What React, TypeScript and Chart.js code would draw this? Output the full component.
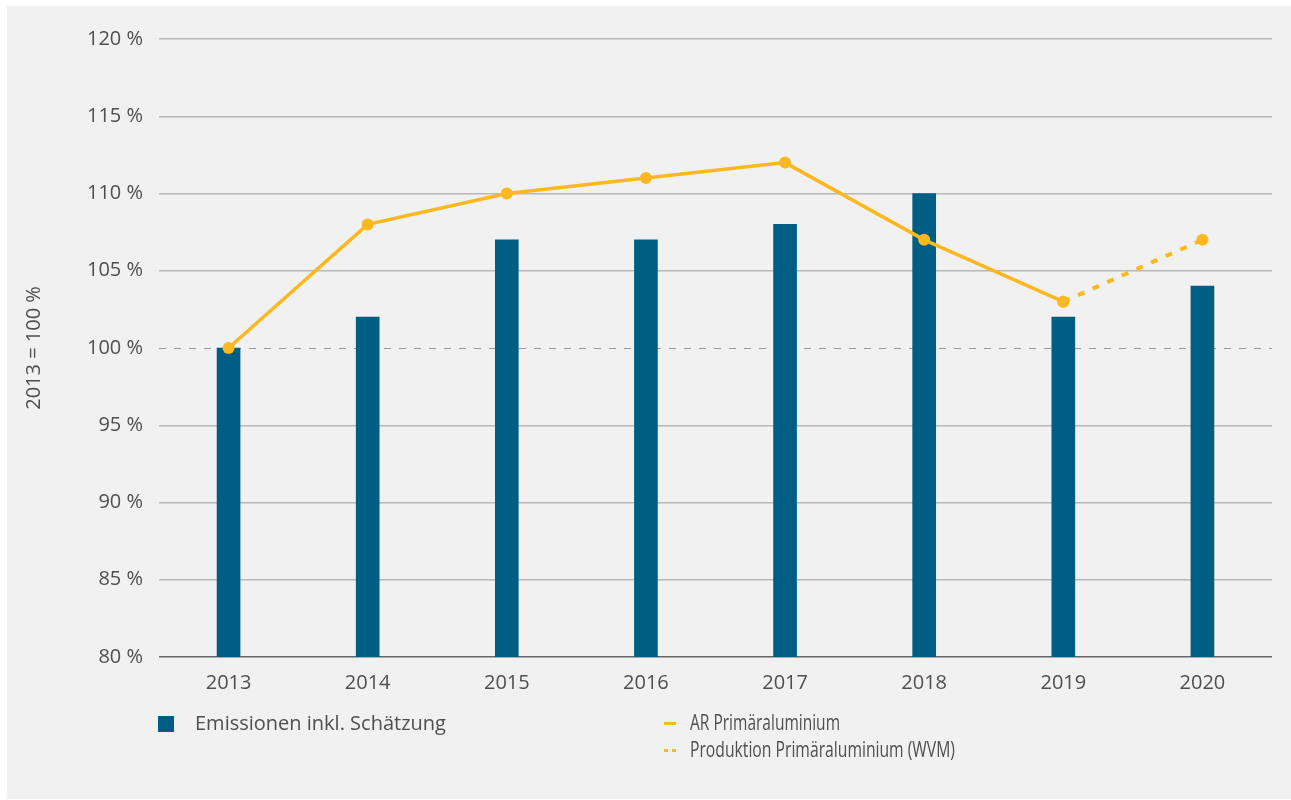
import React, { useEffect, useRef } from "react";
import { Chart, registerables } from "chart.js";

Chart.register(...registerables);

const categories = ["2013", "2014", "2015", "2016", "2017", "2018", "2019", "2020"];
const emissionen = [100, 102, 107, 107, 108, 110, 102, 104];
const arPrimaer = [100, 108, 110, 111, 112, 107, 103, null];
const produktionWVM = [null, null, null, null, null, null, 103, 107];
const yTicks = [80, 85, 90, 95, 100, 105, 110, 115, 120];

const BLUE = "#005d84";
const YELLOW = "#fbb820";
const TEXT = "#4f4f4f";

const baselinePlugin = {
  id: "baseline100",
  beforeDatasetsDraw(chart: any) {
    const y = chart.scales.y.getPixelForValue(100);
    const { left, right } = chart.chartArea;
    const ctx = chart.ctx;
    ctx.save();
    ctx.strokeStyle = "#9a9a9a";
    ctx.lineWidth = 1;
    ctx.setLineDash([7, 8]);
    ctx.beginPath();
    ctx.moveTo(left, Math.round(y) + 0.5);
    ctx.lineTo(right, Math.round(y) + 0.5);
    ctx.stroke();
    ctx.restore();
  },
};

function ChartView() {
  const ref = useRef<HTMLCanvasElement | null>(null);
  useEffect(() => {
    if (!ref.current) return;
    const chart = new Chart(ref.current, {
      type: "bar",
      data: {
        labels: categories,
        datasets: [
          {
            type: "line",
            label: "AR Primäraluminium",
            data: arPrimaer,
            borderColor: YELLOW,
            backgroundColor: YELLOW,
            borderWidth: 3.5,
            pointRadius: 6,
            pointBackgroundColor: YELLOW,
            pointBorderWidth: 0,
            spanGaps: false,
            order: 1,
          } as any,
          {
            type: "line",
            label: "Produktion Primäraluminium (WVM)",
            data: produktionWVM,
            borderColor: YELLOW,
            backgroundColor: YELLOW,
            borderWidth: 4,
            borderDash: [7, 9],
            pointRadius: 6,
            pointBackgroundColor: YELLOW,
            pointBorderWidth: 0,
            order: 1,
          } as any,
          {
            type: "bar",
            label: "Emissionen inkl. Schätzung",
            data: emissionen,
            backgroundColor: BLUE,
            barThickness: 23,
            order: 2,
          } as any,
        ],
      },
      options: {
        animation: false,
        responsive: false,
        maintainAspectRatio: false,
        layout: { padding: { left: 0, right: 19, top: 39, bottom: 103 } },
        plugins: {
          legend: { display: false },
          tooltip: { enabled: false },
        },
        scales: {
          x: {
            offset: true,
            grid: { display: false, drawTicks: false },
            border: { display: false },
            ticks: {
              color: TEXT,
              padding: 14,
              font: { family: "'Open Sans', sans-serif", size: 20 },
            },
            afterFit: (s: any) => {
              s.height = 40;
            },
          },
          y: {
            min: 80,
            max: 120,
            afterBuildTicks: (s: any) => {
              s.ticks = yTicks.map((v) => ({ value: v }));
            },
            grid: {
              drawTicks: false,
              lineWidth: 1.5,
              color: (c: any) =>
                c.tick && c.tick.value === 100
                  ? "rgba(0,0,0,0)"
                  : c.tick && c.tick.value === 80
                  ? "#666666"
                  : "#b8b8b8",
            },
            border: { display: false },
            ticks: {
              color: TEXT,
              padding: 16,
              font: { family: "'Open Sans', sans-serif", size: 20 },
              callback: (v: any) => v + " %",
            },
            title: {
              display: true,
              text: "2013 = 100 %",
              color: TEXT,
              font: { family: "'Open Sans', sans-serif", size: 20 },
              padding: { top: 22, bottom: 0 },
            },
            afterFit: (s: any) => {
              s.width = 159;
            },
          },
        },
      },
      plugins: [baselinePlugin],
    });
    return () => chart.destroy();
  }, []);
  return (
    <canvas
      ref={ref}
      width={1291}
      height={800}
      style={{ position: "absolute", left: 0, top: 0, width: 1291, height: 800 }}
    />
  );
}

function NarrowText({ text, left, top, target }: { text: string; left: number; top: number; target: number }) {
  const ref = useRef<HTMLSpanElement | null>(null);
  useEffect(() => {
    const el = ref.current;
    if (!el) return;
    el.style.transform = "none";
    const w = el.getBoundingClientRect().width;
    if (w > 0) el.style.transform = `scaleX(${target / w})`;
  }, [text, target]);
  return (
    <span
      ref={ref}
      style={{
        position: "absolute",
        left,
        top,
        display: "inline-block",
        fontFamily: "'Open Sans', sans-serif",
        fontSize: 21,
        lineHeight: "24px",
        color: TEXT,
        whiteSpace: "nowrap",
        transformOrigin: "0 0",
      }}
    >
      {text}
    </span>
  );
}

export default function App() {
  const legendLeft: React.CSSProperties = {
    position: "absolute",
    fontFamily: "'Open Sans', sans-serif",
    fontSize: 20,
    lineHeight: "24px",
    color: TEXT,
    whiteSpace: "nowrap",
  };
  return (
    <div
      style={{
        position: "absolute",
        left: 0,
        top: 0,
        width: 1291,
        height: 800,
        background: "#ffffff",
        overflow: "hidden",
      }}
    >
      <div
        style={{
          position: "absolute",
          left: 7,
          top: 6,
          width: 1284,
          height: 793,
          background: "#f1f1f1",
        }}
      />
      <ChartView />
      <div style={{ position: "absolute", left: 158, top: 716, width: 16, height: 16, background: BLUE }} />
      <div style={{ ...legendLeft, left: 195, top: 711 }}>Emissionen inkl. Schätzung</div>
      <div style={{ position: "absolute", left: 664, top: 722, width: 12, height: 3, background: YELLOW }} />
      <NarrowText text="AR Primäraluminium" left={690} top={710} target={150} />
      <div style={{ position: "absolute", left: 664, top: 749, width: 4, height: 3, background: YELLOW }} />
      <div style={{ position: "absolute", left: 672, top: 749, width: 4, height: 3, background: YELLOW }} />
      <NarrowText text="Produktion Primäraluminium (WVM)" left={690} top={737} target={265} />
    </div>
  );
}
